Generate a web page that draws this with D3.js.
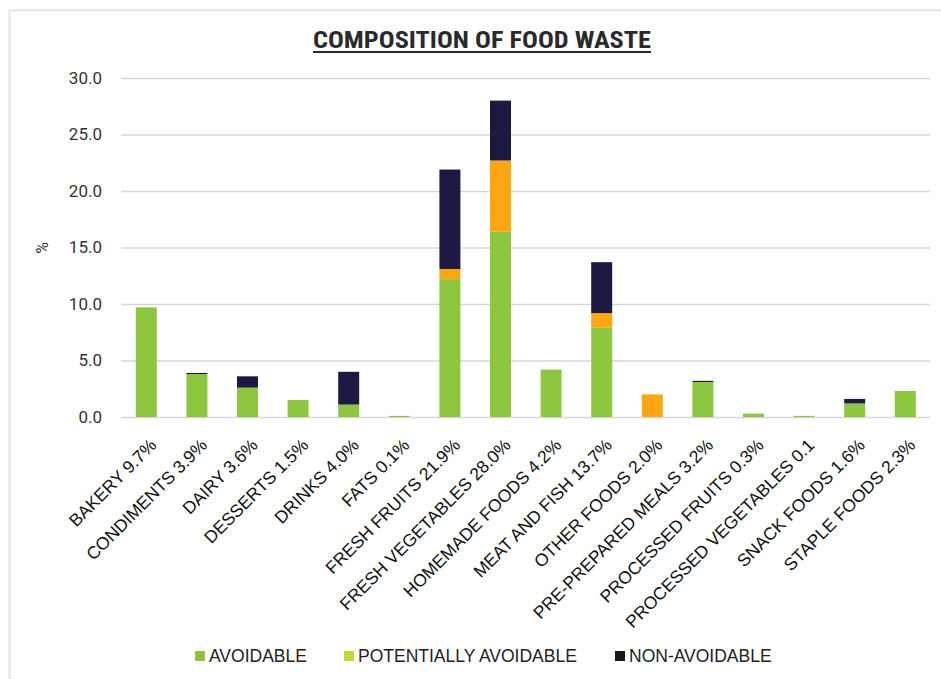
<!DOCTYPE html>
<html>
<head>
<meta charset="utf-8">
<script src="https://cdn.jsdelivr.net/npm/d3@7"></script>
<style>
  html, body { margin: 0; padding: 0; background: #fff; }
  svg { display: block; }
</style>
</head>
<body>
<svg id="chart" width="941" height="679"></svg>
<script>
// Food waste categories, with the share label shown under each bar
const categories = [
  "BAKERY 9.7%", "CONDIMENTS 3.9%", "DAIRY 3.6%", "DESSERTS 1.5%", "DRINKS 4.0%",
  "FATS 0.1%", "FRESH FRUITS 21.9%", "FRESH VEGETABLES 28.0%", "HOMEMADE FOODS 4.2%",
  "MEAT AND FISH 13.7%", "OTHER FOODS 2.0%", "PRE-PREPARED MEALS 3.2%",
  "PROCESSED FRUITS 0.3%", "PROCESSED VEGETABLES 0.1", "SNACK FOODS 1.6%", "STAPLE FOODS 2.3%"
];

// Percent of total waste per category, split by avoidability
const avoidable            = [9.7, 3.8, 2.6, 1.5, 1.1, 0.1, 12.2, 16.4, 4.2, 7.9, 0.0, 3.1, 0.3, 0.1, 1.2, 2.3];
const potentiallyAvoidable = [0.0, 0.0, 0.0, 0.0, 0.0, 0.0,  0.9,  6.3, 0.0, 1.3, 2.0, 0.0, 0.0, 0.0, 0.0, 0.0];
const nonAvoidable         = [0.0, 0.1, 1.0, 0.0, 2.9, 0.0,  8.8,  5.3, 0.0, 4.5, 0.0, 0.1, 0.0, 0.0, 0.4, 0.0];

const seriesNames = ["AVOIDABLE", "POTENTIALLY AVOIDABLE", "NON-AVOIDABLE"];
const yTicks = [0, 5, 10, 15, 20, 25, 30];

const barColors    = ["#8dc63f", "#fca612", "#1c1a42"];
const legendColors = ["#93bf40", "#c3d63a", "#1b1b1f"];

const svg = d3.select("#chart");

// Light frame around the chart area
svg.append("rect")
  .attr("x", 9.5).attr("y", 10.5)
  .attr("width", 960).attr("height", 700)
  .attr("fill", "none")
  .attr("stroke", "#e3e3e3")
  .attr("stroke-width", 2);

const x = d3.scaleBand()
  .domain(categories)
  .range([121, 930.6])
  .paddingInner(0.585)
  .paddingOuter(0.2925);

const y = d3.scaleLinear()
  .domain([0, 30])
  .range([417, 78]);

// Horizontal gridlines with value labels
const yAxis = d3.axisLeft(y)
  .tickValues(yTicks)
  .tickSize(-(930 - 121))
  .tickPadding(19)
  .tickFormat(d3.format(".1f"));

const gy = svg.append("g")
  .attr("transform", "translate(121,0)")
  .call(yAxis);
gy.select(".domain").remove();
gy.selectAll(".tick line")
  .attr("stroke", "#d6d6d6")
  .attr("stroke-width", 1.5);
gy.selectAll(".tick text")
  .attr("fill", "#333")
  .style("font-family", "Roboto, 'Liberation Sans', sans-serif")
  .style("font-size", "17px");

// Y axis title
svg.append("text")
  .attr("transform", "translate(48,248) rotate(-90)")
  .attr("text-anchor", "middle")
  .attr("fill", "#333")
  .style("font-family", "Roboto, 'Liberation Sans', sans-serif")
  .style("font-size", "16px")
  .text("%");

// Stacked bars
const rows = categories.map((c, i) => ({
  cat: c,
  s0: avoidable[i],
  s1: potentiallyAvoidable[i],
  s2: nonAvoidable[i]
}));
const stack = d3.stack().keys(["s0", "s1", "s2"]);
const layers = stack(rows);

svg.append("g")
  .selectAll("g")
  .data(layers)
  .join("g")
  .attr("fill", (d, i) => barColors[i])
  .selectAll("rect")
  .data(d => d.filter(p => p[1] - p[0] > 0))
  .join("rect")
  .attr("x", d => x(d.data.cat))
  .attr("width", x.bandwidth())
  .attr("y", d => y(d[1]))
  .attr("height", d => y(d[0]) - y(d[1]));

// Rotated category labels
const xAxis = d3.axisBottom(x).tickSize(0).tickPadding(0);
const gx = svg.append("g")
  .attr("transform", "translate(0,417)")
  .call(xAxis);
gx.select(".domain").remove();
gx.selectAll(".tick text")
  .attr("transform", "translate(7,25) rotate(-45)")
  .attr("text-anchor", "end")
  .attr("dy", "0.35em")
  .attr("y", 0)
  .attr("fill", "#111")
  .style("font-family", "'Liberation Sans', Arial, sans-serif")
  .style("font-size", "17.5px");

// Title
svg.append("text")
  .attr("x", 482)
  .attr("y", 48)
  .attr("text-anchor", "middle")
  .attr("fill", "#2a2a2a")
  .attr("textLength", 338)
  .attr("lengthAdjust", "spacingAndGlyphs")
  .style("font-family", "'Liberation Sans Narrow', 'Roboto Condensed', Roboto, sans-serif")
  .style("font-weight", "bold")
  .style("font-size", "23px")
  .text("COMPOSITION OF FOOD WASTE");
svg.append("line")
  .attr("x1", 313).attr("x2", 651)
  .attr("y1", 52).attr("y2", 52)
  .attr("stroke", "#2a2a2a")
  .attr("stroke-width", 1.8);

// Legend
const legendX = [195, 344, 615];
const legend = svg.append("g")
  .selectAll("g")
  .data(seriesNames)
  .join("g")
  .attr("transform", (d, i) => `translate(${legendX[i]},656)`);
legend.append("rect")
  .attr("x", 0).attr("y", -5)
  .attr("width", 10).attr("height", 10)
  .attr("fill", (d, i) => legendColors[i]);
legend.append("text")
  .attr("x", 14)
  .attr("dy", "0.35em")
  .attr("fill", "#222")
  .style("font-family", "'Liberation Sans', Arial, sans-serif")
  .style("font-size", "17.5px")
  .text(d => d);
</script>
</body>
</html>
